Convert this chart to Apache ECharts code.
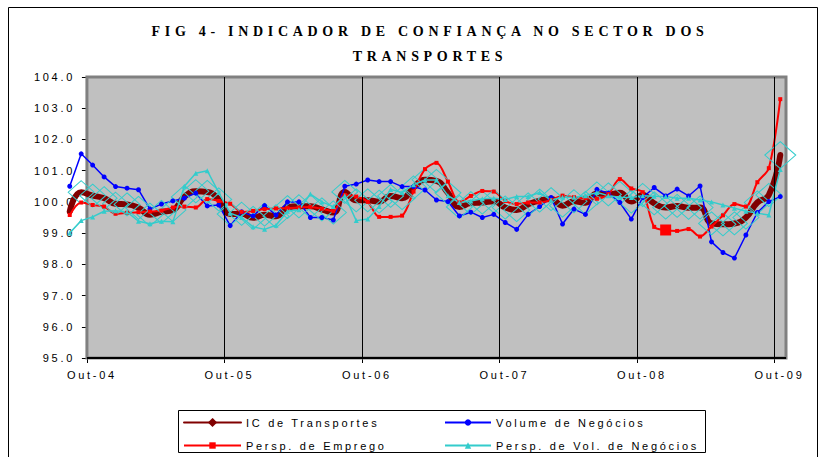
<!DOCTYPE html>
<html>
<head>
<meta charset="utf-8">
<script src="https://cdn.jsdelivr.net/npm/echarts@6/dist/echarts.min.js"></script>
<style>
  html, body { margin: 0; padding: 0; background: #fff; }
  #chart { width: 822px; height: 457px; }
  #chart text { letter-spacing: 2.7px; }
</style>
</head>
<body>
<div id="chart"></div>
<script>
// monthly values, Ago-04 .. Out-09 (63 months)
const firstMonth = -2; // Ago-04, counted in months from Out-04

const icTransportes = [99.69, 100.31, 100.2, 100.12, 99.94, 99.92, 99.81, 99.59, 99.68, 99.74,
  100.16, 100.34, 100.32, 100.08, 99.61, 99.62, 99.49, 99.59, 99.54, 99.83,
  99.86, 99.86, 99.76, 99.66, 100.32, 100.05, 100.05, 100.01, 100.19, 100.12,
  100.46, 100.71, 100.67, 100.29, 99.84, 99.96, 99.98, 100.02, 99.82, 99.74,
  99.92, 100.04, 100.09, 99.88, 100.02, 99.97, 100.27, 100.24, 100.29, 100.01,
  100.22, 99.95, 99.82, 99.87, 99.81, 99.82, 99.31, 99.28, 99.31, 99.5,
  99.98, 100.22, 101.5];

const volumeNegocios = [100.5, 101.54, 101.18, 100.8, 100.49, 100.44, 100.39, 99.77, 99.93, 100.03,
  100.12, 100.28, 99.87, 99.9, 99.24, 99.68, 99.55, 99.88, 99.58, 100.0,
  100.0, 99.5, 99.5, 99.42, 100.5, 100.57, 100.7, 100.65, 100.65, 100.49,
  100.49, 100.38, 100.06, 100.01, 99.55, 99.67, 99.5, 99.6, 99.34, 99.12,
  99.6, 99.85, 100.14, 99.29, 99.77, 99.6, 100.4, 100.28, 99.98, 99.45,
  100.14, 100.46, 100.19, 100.41, 100.19, 100.51, 98.72, 98.38, 98.2, 98.94,
  99.66, 100.01, 100.17];

const perspEmprego = [99.58, 99.98, 99.9, 99.85, 99.62, 99.65, 99.67, 99.69, 99.72, 99.82,
  99.85, 99.82, 100.09, 100.03, 99.94, 99.68, 99.71, 99.77, 99.79, 99.8,
  99.82, 99.84, 99.78, 99.71, 100.22, 100.17, 100.0, 99.52, 99.52, 99.56,
  100.33, 101.05, 101.25, 100.65, 99.98, 100.19, 100.35, 100.33, 100.03, 99.93,
  99.98, 99.98, 100.06, 100.2, 100.15, 100.12, 100.1, 100.25, 100.73, 100.43,
  100.31, 99.2, 99.1, 99.07, 99.13, 98.89, 99.21, 99.57, 99.93, 99.85,
  100.63, 101.08, 103.29];

const perspVolNegocios = [99.0, 99.4, 99.52, 99.7, 99.72, 99.68, 99.38, 99.3, 99.38, 99.36,
  100.5, 100.92, 101.0, 100.3, 99.64, 99.5, 99.2, 99.12, 99.25, 99.7,
  99.75, 100.25, 100.0, 99.85, 100.2, 99.4, 99.45, 99.85, 100.4, 100.3,
  100.55, 100.7, 100.7, 100.2, 99.98, 100.03, 100.1, 100.12, 100.08, 100.17,
  100.17, 100.3, 100.06, 100.15, 100.15, 100.2, 100.3, 100.2, 100.15, 100.14,
  100.2, 100.18, 100.17, 100.12, 100.12, 100.06, 100.0, 99.9, 99.8, 99.7,
  99.64, 99.58, 101.04];

const xLabels = ['Out-04', 'Out-05', 'Out-06', 'Out-07', 'Out-08', 'Out-09'];
const yearTicks = [0, 12, 24, 36, 48, 60];
const plotEnd = 61; // right edge of the grey plot, months after Out-04

const font = 'Liberation Sans';
const chart = echarts.init(document.getElementById('chart'), null, { renderer: 'svg' });

// points sit in the middle of their month
function toPoints(vals) {
  return vals.map((v, i) => [firstMonth + i + 0.5, v]);
}

const icData = toPoints(icTransportes);
icData[0] = { value: icData[0], symbol: 'none' };
icData[icData.length - 1] = { value: icData[icData.length - 1], symbolSize: [31, 27] };
const empregoData = toPoints(perspEmprego);
empregoData[52] = { value: empregoData[52], symbolSize: 11 };

const legendText = { fontFamily: font, fontSize: 11, color: '#000' };

const option = {
  animation: false,
  backgroundColor: '#fff',
  title: {
    text: 'FIG 4- INDICADOR DE CONFIANÇA NO SECTOR DOS\nTRANSPORTES',
    left: 430,
    top: 19,
    padding: 0,
    textAlign: 'center',
    textStyle: {
      fontFamily: 'Liberation Serif',
      fontWeight: 'bold',
      fontSize: 14,
      lineHeight: 25,
      color: '#000'
    }
  },
  graphic: [
    { type: 'rect', left: 6, top: 5, silent: true,
      shape: { width: 809, height: 470 }, style: { fill: 'none', stroke: '#000', lineWidth: 1 } },
    { type: 'rect', left: 178, top: 410, silent: true,
      shape: { width: 527, height: 42 }, style: { fill: '#fff', stroke: '#000', lineWidth: 1 } }
  ],
  legend: [
    {
      left: 183, top: 417, orient: 'vertical', padding: 0,
      itemGap: 12, itemWidth: 57, itemHeight: 8, selectedMode: false,
      textStyle: legendText,
      data: [
        { name: 'IC de Transportes', itemStyle: { color: '#800000', borderColor: '#800000' } },
        'Persp. de Emprego'
      ]
    },
    {
      left: 444, top: 417, orient: 'vertical', padding: 0,
      itemGap: 12, itemWidth: 46, itemHeight: 8, selectedMode: false,
      textStyle: legendText,
      data: ['Volume de Negócios', 'Persp. de Vol. de Negócios']
    }
  ],
  // grid reaches a little left of Out-04 so the first months are drawn outside the grey area
  grid: { left: 64, right: 36, top: 77, bottom: 99 },
  xAxis: {
    type: 'value',
    min: firstMonth,
    max: plotEnd,
    axisLine: { show: false },
    axisTick: { customValues: yearTicks, length: 5, lineStyle: { color: '#000' } },
    axisLabel: {
      customValues: yearTicks,
      formatter: v => xLabels[Math.round(v / 12)] || '',
      color: '#000', fontFamily: font, fontSize: 11, margin: 11,
      padding: [0, 0, 0, 10]
    },
    splitLine: { show: false }
  },
  yAxis: {
    type: 'value',
    min: 95,
    max: 104,
    interval: 1,
    axisLine: { show: true, onZero: true, lineStyle: { color: '#000', width: 2 } },
    axisTick: { show: true, length: 5, lineStyle: { color: '#000' } },
    axisLabel: {
      formatter: v => v.toFixed(1),
      // labels are laid out from the grid edge, not from the Out-04 axis line
      color: '#000', fontFamily: font, fontSize: 11, margin: -11
    },
    splitLine: { show: false }
  },
  series: [
    {
      // plot background, year lines and bottom axis
      name: 'plot',
      type: 'line',
      data: [],
      z: 1,
      silent: true,
      markArea: {
        silent: true,
        label: { show: false },
        itemStyle: { color: '#c0c0c0', borderColor: '#808080', borderWidth: 3 },
        data: [[{ coord: [0, 95] }, { coord: [plotEnd, 104] }]]
      },
      markLine: {
        silent: true,
        symbol: ['none', 'none'],
        label: { show: false },
        lineStyle: { color: '#000', width: 1, type: 'solid' },
        data: yearTicks.slice(1).map(m => ({ xAxis: m })).concat([
          [{ coord: [0, 95], lineStyle: { width: 2 } }, { coord: [plotEnd, 95] }]
        ])
      }
    },
    {
      name: 'IC de Transportes',
      type: 'line',
      data: icData,
      smooth: 0.5,
      clip: false,
      symbol: 'diamond',
      symbolSize: [26, 23],
      lineStyle: { color: '#800000', width: 6, cap: 'round' },
      itemStyle: { color: 'rgba(0,0,0,0)', borderColor: '#33cccc', borderWidth: 1 }
    },
    {
      name: 'Volume de Negócios',
      type: 'line',
      data: toPoints(volumeNegocios),
      clip: false,
      symbol: 'circle',
      symbolSize: 5,
      lineStyle: { color: '#0000ff', width: 1.5 },
      itemStyle: { color: '#0000ff' }
    },
    {
      name: 'Persp. de Emprego',
      type: 'line',
      data: empregoData,
      smooth: 0.3,
      clip: false,
      symbol: 'rect',
      symbolSize: 4,
      lineStyle: { color: '#ff0000', width: 2 },
      itemStyle: { color: '#ff0000' }
    },
    {
      name: 'Persp. de Vol. de Negócios',
      type: 'line',
      data: toPoints(perspVolNegocios),
      clip: false,
      symbol: 'triangle',
      symbolSize: 5,
      lineStyle: { color: '#33cccc', width: 1.5 },
      itemStyle: { color: '#33cccc' }
    }
  ]
};

chart.setOption(option);

// the title is set wide, like the original
function spaceTitle() {
  document.querySelectorAll('#chart text').forEach(t => {
    const s = t.textContent;
    if (s.indexOf('FIG 4') === 0 || s === 'TRANSPORTES') {
      t.style.letterSpacing = '4.7px';
    }
  });
}
chart.on('finished', spaceTitle);
spaceTitle();
</script>
</body>
</html>
